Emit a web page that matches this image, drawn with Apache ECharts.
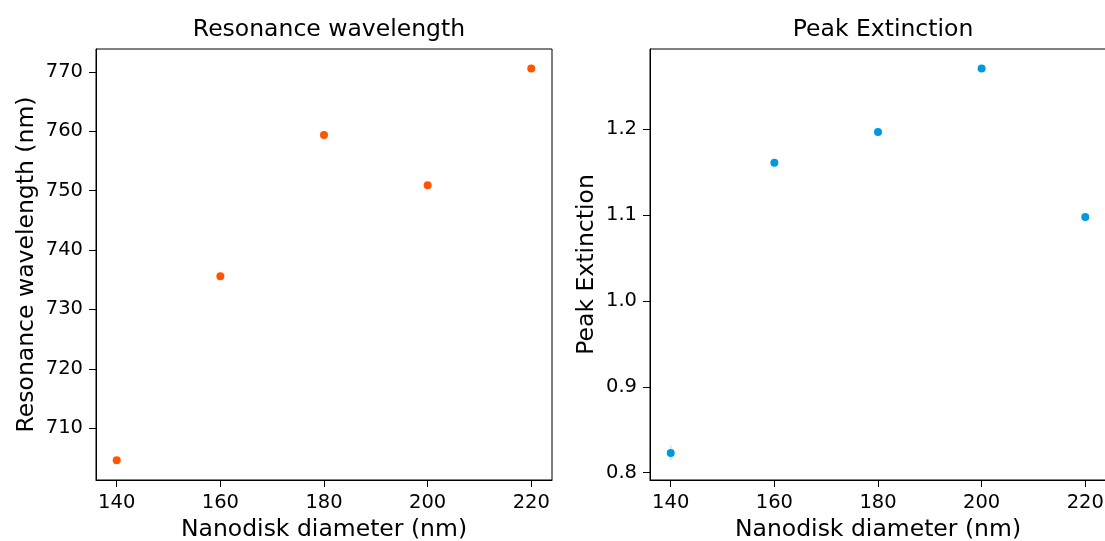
<!DOCTYPE html>
<html>
<head>
<meta charset="utf-8">
<script src="https://cdn.jsdelivr.net/npm/echarts@6/dist/echarts.min.js"></script>
<style>
  html, body { margin: 0; padding: 0; background: #fff; }
  #chart { width: 1105px; height: 541px; }
</style>
</head>
<body>
<div id="chart"></div>
<script>
// nanodisk diameters (nm)
const diameters = [140, 160, 180, 200, 220];
// resonance wavelength (nm)
const resonance = [704.6, 735.6, 759.4, 750.9, 770.6];
// peak extinction and its error
const peakExt = [0.823, 1.161, 1.197, 1.271, 1.098];
const peakErr = [0.0087, 0.002, 0.002, 0.001, 0.002];

const xTicks = [140, 160, 180, 200, 220];
const resTicks = [710, 720, 730, 740, 750, 760, 770];
const extTicks = [0.8, 0.9, 1.0, 1.1, 1.2];

const font = 'DejaVu Sans';
const chart = echarts.init(document.getElementById('chart'));

const xAxisFor = (gridIndex) => ({
  type: 'value',
  gridIndex,
  min: 136,
  max: 224,
  name: 'Nanodisk diameter (nm)',
  nameLocation: 'middle',
  nameGap: 35,
  nameTextStyle: {fontFamily: font, fontSize: 23.5, color: '#000'},
  axisLine: {show: true, onZero: false, lineStyle: {color: '#000', width: 1}},
  axisTick: {show: true, length: 7, customValues: xTicks, lineStyle: {color: '#000'}},
  axisLabel: {margin: 13, customValues: xTicks, fontFamily: font, fontSize: 19.5, color: '#000'},
  splitLine: {show: false}
});

const yAxisFor = (gridIndex, name, min, max, ticks, gap, fmt) => ({
  type: 'value',
  gridIndex,
  min,
  max,
  name,
  nameLocation: 'middle',
  nameGap: gap,
  nameTextStyle: {fontFamily: font, fontSize: 23.5, color: '#000'},
  axisLine: {show: true, onZero: false, lineStyle: {color: '#000', width: 1}},
  axisTick: {show: true, length: 7, customValues: ticks, lineStyle: {color: '#000'}},
  axisLabel: {margin: 13, customValues: ticks, formatter: fmt, fontFamily: font, fontSize: 19.5, color: '#000'},
  splitLine: {show: false}
});

chart.setOption({
  backgroundColor: '#fff',
  animation: false,
  title: [
    {text: 'Resonance wavelength', left: 324, top: 13, textAlign: 'center',
      textStyle: {fontFamily: font, fontSize: 23.5, fontWeight: 'normal', color: '#000'}},
    {text: 'Peak Extinction', left: 878, top: 13, textAlign: 'center',
      textStyle: {fontFamily: font, fontSize: 23.5, fontWeight: 'normal', color: '#000'}}
  ],
  grid: [
    {left: 96, width: 456, top: 49, bottom: 61, outerBoundsMode: 'none',
      show: true, borderColor: '#000', borderWidth: 1},
    {left: 650, width: 456, top: 49, bottom: 61, outerBoundsMode: 'none',
      show: true, borderColor: '#000', borderWidth: 1}
  ],
  xAxis: [xAxisFor(0), xAxisFor(1)],
  yAxis: [
    yAxisFor(0, 'Resonance wavelength (nm)', 701.26, 773.87, resTicks, 57, (v) => String(Math.round(v))),
    yAxisFor(1, 'Peak Extinction', 0.7915, 1.2936, extTicks, 51, (v) => v.toFixed(1))
  ],
  series: [
    {
      type: 'scatter',
      xAxisIndex: 0,
      yAxisIndex: 0,
      symbolSize: 8,
      itemStyle: {color: '#ff5500', opacity: 1},
      data: diameters.map((d, i) => [d, resonance[i]])
    },
    {
      type: 'custom',
      xAxisIndex: 1,
      yAxisIndex: 1,
      data: diameters.map((d, i) => [d, peakExt[i] - peakErr[i], peakExt[i] + peakErr[i]]),
      renderItem: (params, api) => {
        const lo = api.coord([api.value(0), api.value(1)]);
        const hi = api.coord([api.value(0), api.value(2)]);
        return {
          type: 'line',
          shape: {x1: lo[0], y1: lo[1], x2: hi[0], y2: hi[1]},
          style: {stroke: 'rgba(0,150,220,0.2)', lineWidth: 2}
        };
      },
      z: 1
    },
    {
      type: 'scatter',
      xAxisIndex: 1,
      yAxisIndex: 1,
      symbolSize: 8,
      itemStyle: {color: '#0099dd', opacity: 1},
      data: diameters.map((d, i) => [d, peakExt[i]]),
      z: 2
    }
  ]
});
</script>
</body>
</html>
